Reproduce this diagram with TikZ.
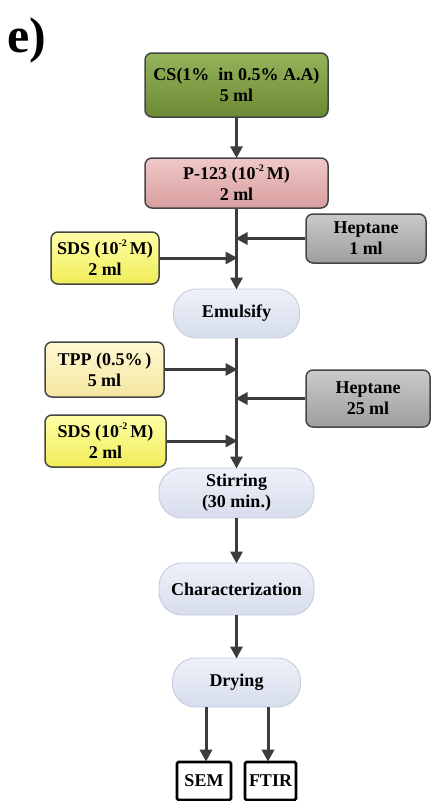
\documentclass[tikz,border=0pt]{standalone}
\usepackage{fontspec}
\setmainfont{Liberation Serif}
\usetikzlibrary{arrows.meta}
\definecolor{linegray}{HTML}{3C3C3C}
\definecolor{edgegray}{HTML}{454545}
\definecolor{greentop}{HTML}{95B35A}
\definecolor{greenbot}{HTML}{6C8A34}
\definecolor{pinktop}{HTML}{F0C8C8}
\definecolor{pinkbot}{HTML}{D89E9E}
\definecolor{graytop}{HTML}{CACACA}
\definecolor{graybot}{HTML}{9E9E9E}
\definecolor{yeltop}{HTML}{FFFFA6}
\definecolor{yelbot}{HTML}{F0EC58}
\definecolor{paletop}{HTML}{FFF9D2}
\definecolor{palebot}{HTML}{F5E6A0}
\definecolor{pilltop}{HTML}{EEF1F9}
\definecolor{pillbot}{HTML}{D7DDEC}
\definecolor{pilledge}{HTML}{C4CBDE}
\newcommand{\sqtwo}{10\raisebox{0.45em}{\fontsize{10}{10}\selectfont -2}}
\tikzset{
  box/.style={draw=edgegray, line width=1.5pt, rounded corners=7pt, align=center,
    font=\fontsize{18}{21}\selectfont\bfseries, inner sep=0pt},
  greenbox/.style={box, top color=greentop, bottom color=greenbot},
  pinkbox/.style={box, top color=pinktop, bottom color=pinkbot},
  graybox/.style={box, top color=graytop, bottom color=graybot},
  yellowbox/.style={box, top color=yeltop, bottom color=yelbot},
  paleyellowbox/.style={box, top color=paletop, bottom color=palebot},
  pill/.style={draw=pilledge, line width=0.9pt, rounded corners=23pt, align=center,
    top color=pilltop, bottom color=pillbot,
    font=\fontsize{18}{21}\selectfont\bfseries, inner sep=0pt},
  outbox/.style={draw=black, line width=2.6pt, rounded corners=1.5pt, fill=white,
    font=\fontsize{18}{21}\selectfont\bfseries, inner sep=0pt},
  arr/.style={draw=linegray, line width=3pt, -{Triangle[length=12pt,width=12pt]}, shorten >=-1pt}
}
\begin{document}
\begin{tikzpicture}[x=1pt, y=-1pt]
\useasboundingbox (0,0) rectangle (431,801);

% panel label
\node[anchor=base west, inner sep=0pt, font=\fontsize{50}{50}\selectfont\bfseries] (lbl) at (7,52) {e)};

% main column
\node[greenbox, minimum width=183pt, minimum height=64pt] (cs) at (236.5,85) {CS(1\%~ in 0.5\% A.A)\\5 ml};
\node[pinkbox, minimum width=183pt, minimum height=50pt] (p123) at (236.5,183) {P-123 (\sqtwo\,M)\\2 ml};
\node[pill, minimum width=126pt, minimum height=49pt] (emul) at (236.5,313.5) {Emulsify};
\node[pill, minimum width=155pt, minimum height=50pt] (stir) at (236.5,493) {Stirring\\(30 min.)};
\node[pill, minimum width=155pt, minimum height=52pt] (char) at (236.5,589) {Characterization};
\node[pill, minimum width=128pt, minimum height=49pt] (dry) at (236.5,682.5) {Drying};

% side inputs
\node[graybox, minimum width=120pt, minimum height=49pt] (hep1) at (366,238.5) {Heptane\\1 ml};
\node[yellowbox, minimum width=108pt, minimum height=52pt] (sds1) at (105,258) {SDS (\sqtwo\,M)\\2 ml};
\node[paleyellowbox, minimum width=119pt, minimum height=55pt] (tpp) at (104.5,369.5) {TPP (0.5\%\,)\\5 ml};
\node[graybox, minimum width=124pt, minimum height=57pt] (hep2) at (368,398.5) {Heptane\\25 ml};
\node[yellowbox, minimum width=121pt, minimum height=52pt] (sds2) at (105.5,441) {SDS (\sqtwo\,M)\\2 ml};

% analyses
\node[outbox, minimum width=54pt, minimum height=38pt] (sem) at (204,781) {SEM};
\node[outbox, minimum width=51pt, minimum height=38pt] (ftir) at (270.5,781) {FTIR};

% connectors
\draw[arr] (cs) -- (p123);
\draw[arr] (p123) -- (emul);
\draw[arr] (hep1.west) -- (hep1.west -| p123.south);
\draw[arr] (sds1.east) -- (sds1.east -| p123.south);
\draw[arr] (emul) -- (stir);
\draw[arr] (tpp.east) -- (tpp.east -| emul.south);
\draw[arr] (hep2.west) -- (hep2.west -| emul.south);
\draw[arr] (sds2.east) -- (sds2.east -| emul.south);
\draw[arr] (stir) -- (char);
\draw[arr] (char) -- (dry);
\draw[arr] (dry.south -| 206,0) -- (sem.north -| 206,0);
\draw[arr] (dry.south -| 268,0) -- (ftir.north -| 268,0);
\end{tikzpicture}
\end{document}
